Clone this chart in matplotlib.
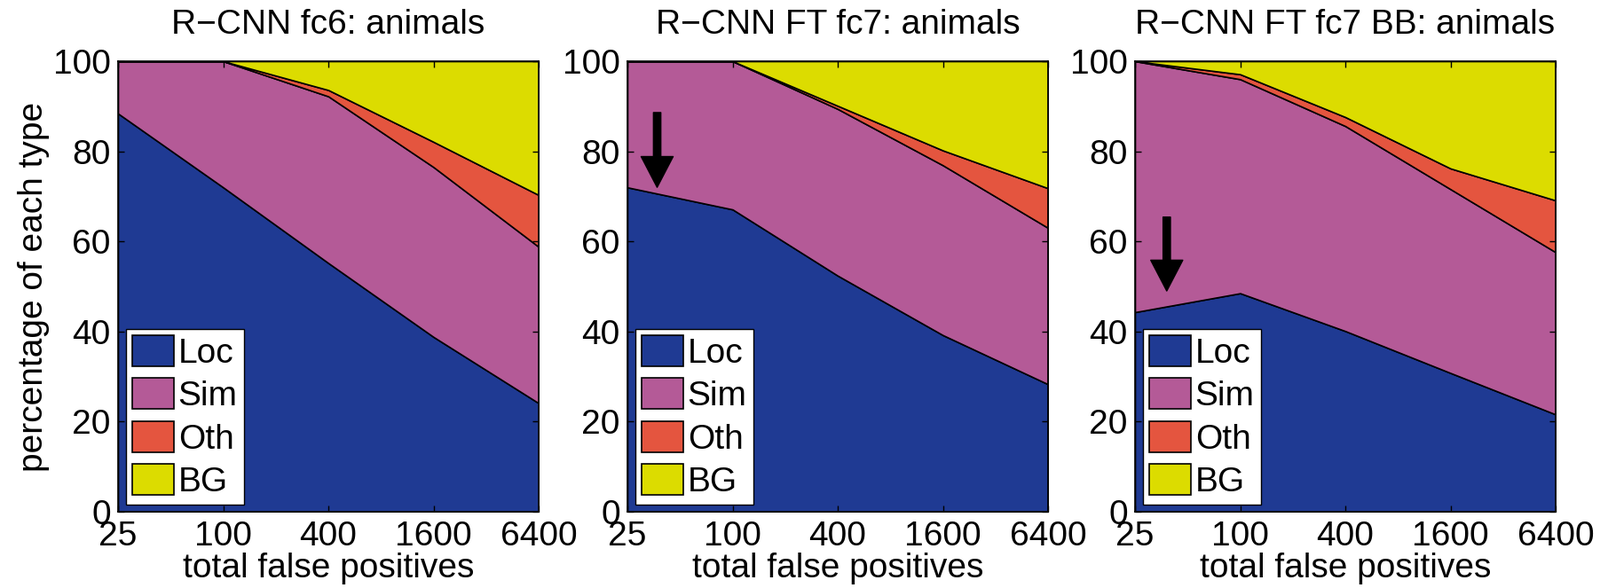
import matplotlib.pyplot as plt
import numpy as np

plt.rcParams['font.family'] = ['Liberation Sans', 'DejaVu Sans']

false_pos = [25, 100, 400, 1600, 6400]
tick_labels = ["25", "100", "400", "1600", "6400"]
types = ["Loc", "Sim", "Oth", "BG"]
colors = ["#1f3a93", "#b45a97", "#e4553f", "#dcdc00"]

titles = ["R\u2212CNN fc6: animals",
          "R\u2212CNN FT fc7: animals",
          "R\u2212CNN FT fc7 BB: animals"]

# percentage of each error type (not cumulative)
fc6_loc = [88.4, 72.0, 55.2, 38.8, 24.1]
fc6_sim = [11.6, 28.0, 37.0, 37.7, 34.7]
fc6_oth = [0.0, 0.0, 1.4, 5.6, 11.5]
fc6_bg = [0.0, 0.0, 6.4, 17.9, 29.7]

ft_loc = [72.0, 67.1, 52.4, 39.2, 28.3]
ft_sim = [28.0, 32.9, 37.0, 37.7, 34.7]
ft_oth = [0.0, 0.0, 0.7, 3.3, 8.8]
ft_bg = [0.0, 0.0, 9.9, 19.8, 28.2]

bb_loc = [44.3, 48.5, 40.1, 30.8, 21.6]
bb_sim = [55.7, 47.5, 45.5, 40.8, 36.0]
bb_oth = [0.0, 1.1, 2.0, 4.6, 11.5]
bb_bg = [0.0, 2.9, 12.4, 23.8, 30.9]

panels = [
    [fc6_loc, fc6_sim, fc6_oth, fc6_bg],
    [ft_loc, ft_sim, ft_oth, ft_bg],
    [bb_loc, bb_sim, bb_oth, bb_bg],
]

# arrows (x, y tail, y tip) for the two fine-tuned panels
arrows = [None, (37, 88.6, 72.0), (38, 65.4, 49.0)]

fig = plt.figure(figsize=(18.03, 6.63), dpi=100)
lefts = [133, 707, 1279]
fs = 28

for i, data in enumerate(panels):
    ax = fig.add_axes([lefts[i] / 1803, 86 / 663, 474 / 1803, 508 / 663])
    ax.stackplot(false_pos, *data, colors=colors, labels=types,
                 edgecolor="black", linewidth=1.2)
    ax.set_xscale("log")
    ax.set_xlim(25, 6400)
    ax.set_ylim(0, 100)
    ax.set_xticks(false_pos)
    ax.set_xticklabels(tick_labels)
    ax.minorticks_off()
    ax.set_yticks([0, 20, 40, 60, 80, 100])
    ax.tick_params(direction="in", top=True, right=True, labelsize=fs,
                   length=5, width=1)
    ax.tick_params(axis="x", pad=7)
    ax.tick_params(axis="y", pad=6)
    for s in ax.spines.values():
        s.set_linewidth(1.2)
    ax.set_title(titles[i], fontsize=fs, pad=22)
    ax.set_xlabel("total false positives", fontsize=fs, labelpad=0)
    if i == 0:
        ax.set_ylabel("percentage of each type", fontsize=fs, labelpad=3)
    leg = ax.legend(loc="lower left", bbox_to_anchor=(9 / 474, 8 / 508),
                    borderaxespad=0, fontsize=fs, fancybox=False,
                    edgecolor="black", framealpha=1, handlelength=1.2,
                    handleheight=1.0, handletextpad=0.13, labelspacing=0.25,
                    borderpad=0.18)
    leg.get_frame().set_linewidth(1.0)
    if arrows[i] is not None:
        ax_x, y0, y1 = arrows[i]
        ax.annotate("", xy=(ax_x, y1), xytext=(ax_x, y0),
                    arrowprops=dict(facecolor="black", edgecolor="black",
                                    width=6, headwidth=26, headlength=25,
                                    shrink=0))

fig.savefig("out.png", dpi=100)
